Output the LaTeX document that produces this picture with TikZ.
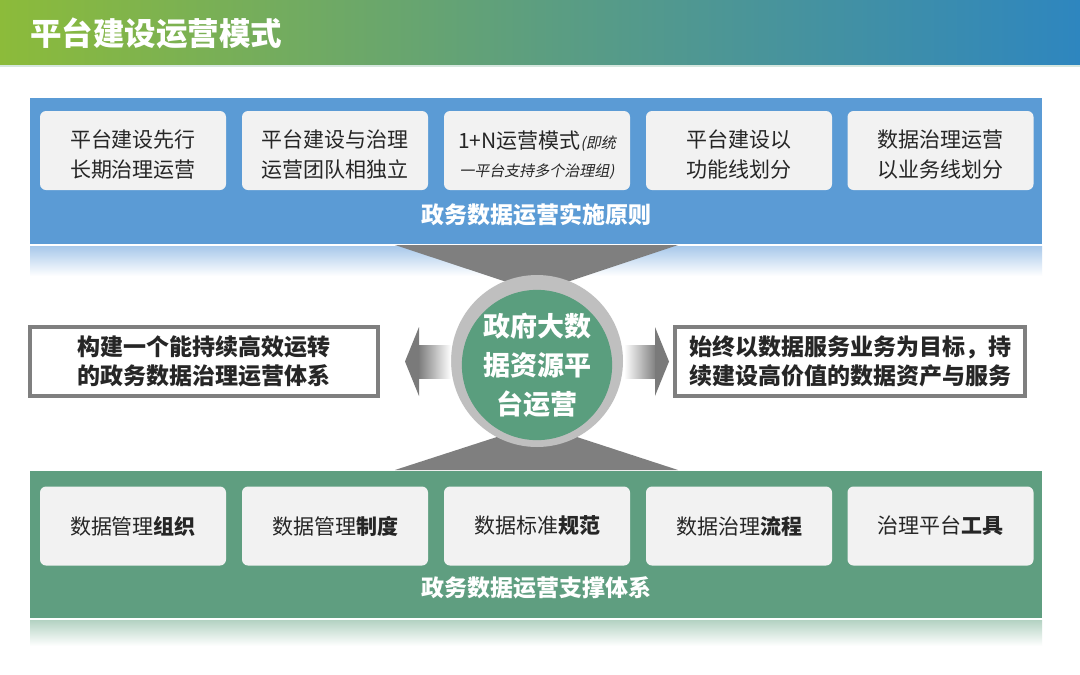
\documentclass[tikz,border=0pt]{standalone}
\usepackage{fontspec}
\setmainfont{Noto Sans CJK SC}
\newfontfamily\cjkit{Noto Sans CJK SC}[FakeSlant=0.2]
\definecolor{titleL}{HTML}{8CBB3A}
\definecolor{titleM}{HTML}{5C9E80}
\definecolor{titleR}{HTML}{2E86BF}
\definecolor{bluepanel}{HTML}{5B9BD5}
\definecolor{bluefade}{HTML}{A7C8EA}
\definecolor{greenpanel}{HTML}{5F9E80}
\definecolor{greenfade}{HTML}{B3D2C2}
\definecolor{circgreen}{HTML}{5A9E7E}
\definecolor{ringgray}{HTML}{BFBFBF}
\definecolor{hourgray}{HTML}{7F7F7F}
\definecolor{arrowgray}{HTML}{7A7A7A}
\definecolor{boxfill}{HTML}{F2F2F2}
\definecolor{boxtext}{HTML}{262626}
\definecolor{sideborder}{HTML}{7F7F7F}
\newcommand{\twoline}[1]{\raisebox{-6pt}[\height][\depth]{\begin{tabular}{@{}c@{}}#1\end{tabular}}}
\tikzset{
  itembox/.style={rounded corners=6pt, fill=boxfill, minimum width=186pt, minimum height=79pt,
    inner sep=0pt, align=center, text=boxtext, font=\fontsize{21}{30}\selectfont},
  sidebox/.style={draw=sideborder, line width=4pt, fill=white, minimum height=69pt,
    inner sep=0pt, align=center, text=boxtext, font=\fontsize{23}{29}\selectfont\bfseries},
  panellabel/.style={text=white, font=\fontsize{23}{28}\selectfont\bfseries, inner sep=0pt},
  titletext/.style={text=white, font=\fontsize{31.5}{36}\selectfont\bfseries, inner sep=0pt},
}
\begin{document}
\begin{tikzpicture}[x=1pt,y=-1pt]
\useasboundingbox (0,0) rectangle (1080,675);
\fill[white] (0,0) rectangle (1080,675);
% title bar
\shade[left color=titleL, right color=titleR, middle color=titleM] (0,0) rectangle (1080,65);
\fill[titleM!25!white] (0,65) rectangle (1080,67);
\node[titletext, anchor=west] (title) at (30,33) {平台建设运营模式};
% panels
\fill[bluepanel] (30,98) rectangle (1042,244);
\shade[top color=bluefade, bottom color=white] (30,246) rectangle (1042,276);
\fill[greenpanel] (30,471) rectangle (1042,618);
\shade[top color=greenfade, bottom color=white] (30,620) rectangle (1042,646);
% hourglass
\fill[hourgray] (395,245) -- (678,245) -- (537,292) -- cycle;
\fill[hourgray] (395,470) -- (678,470) -- (537,424) -- cycle;
% centre circle
\node[circle, fill=ringgray, minimum size=172pt, inner sep=0pt] (ring) at (537,361) {};
\node[circle, fill=circgreen, minimum size=146pt, inner sep=0pt, text=white, align=center,
  font=\fontsize{27}{39}\selectfont\bfseries] (core) at (537,365) {政府大数\\据资源平\\台运营};
% arrows
\shade[left color=arrowgray, right color=white] (418,345) rectangle (451,378);
\fill[arrowgray] (405,361.5) -- (419,327) -- (419,396) -- cycle;
\shade[left color=white, right color=arrowgray] (624,345) rectangle (657,378);
\fill[arrowgray] (669,361.5) -- (655,327) -- (655,396) -- cycle;
% side boxes
\node[sidebox, minimum width=348pt] (goalL) at (204,361.5) {构建一个能持续高效运转\\的政务数据治理运营体系};
\node[sidebox, minimum width=350pt] (goalR) at (850,361.5) {始终以数据服务业务为目标，持\\续建设高价值的数据资产与服务};
% top boxes
\node[itembox] (p1) at (133,150.5) {\twoline{平台建设先行\\长期治理运营}};
\node[itembox] (p2) at (335,150.5) {\twoline{平台建设与治理\\运营团队相独立}};
\node[itembox] (p3) at (537,150.5) {\twoline{1+N运营模式{\fontsize{15}{18}\selectfont\cjkit (即统}\\[-2pt]{\fontsize{15}{18}\selectfont\cjkit 一平台支持多个治理组)}}};
\node[itembox] (p4) at (739,150.5) {\twoline{平台建设以\\功能线划分}};
\node[itembox] (p5) at (940.5,150.5) {\twoline{数据治理运营\\以业务线划分}};
\node[panellabel] (principles) at (536,215) {政务数据运营实施原则};
% bottom boxes
\node[itembox] (s1) at (133,526) {数据管理\textbf{组织}};
\node[itembox] (s2) at (335,526) {数据管理\textbf{制度}};
\node[itembox] (s3) at (537,526) {数据标准\textbf{规范}};
\node[itembox] (s4) at (739,526) {数据治理\textbf{流程}};
\node[itembox] (s5) at (940.5,526) {治理平台\textbf{工具}};
\node[panellabel] (support) at (536,588) {政务数据运营支撑体系};
\end{tikzpicture}
\end{document}
